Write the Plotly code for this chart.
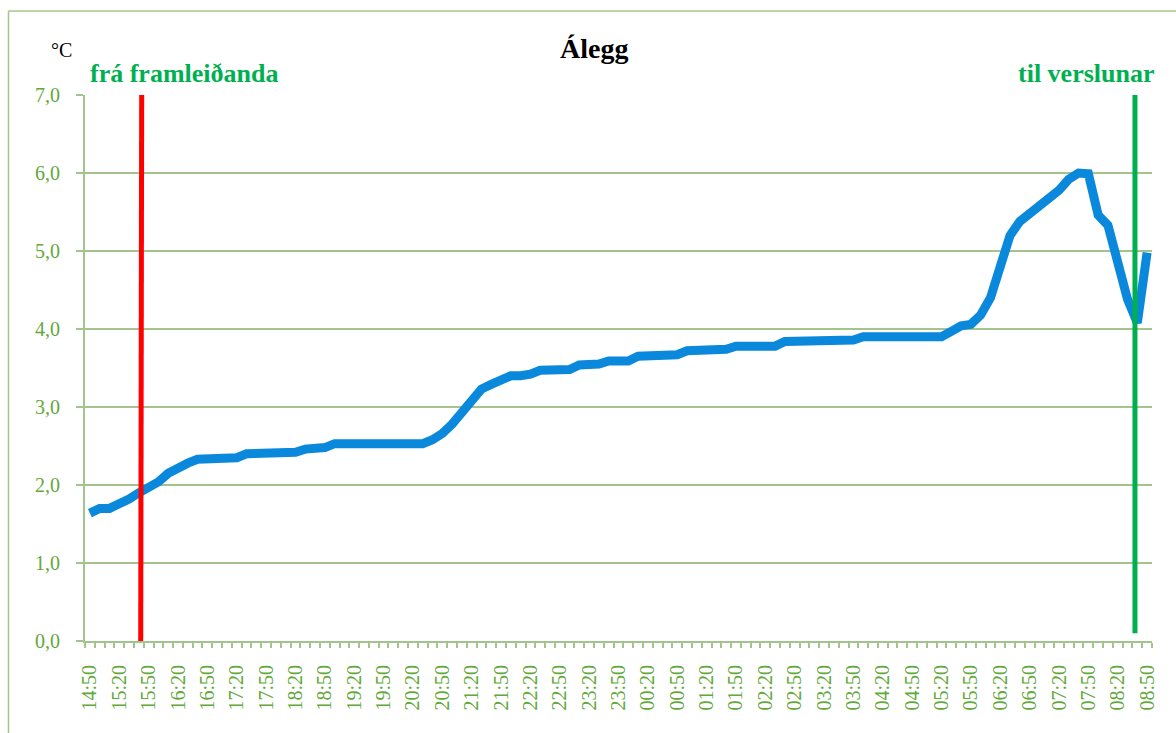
import pandas as pd
import plotly.graph_objects as go

# 10-minute logging intervals, 14:50 through 08:50 the next morning
times = [t.strftime("%H:%M") for t in
         pd.date_range("2000-01-01 14:50", "2000-01-02 08:50", freq="10min")]

# Logged temperature (°C) at each interval
temps = [
    1.64, 1.70, 1.70, 1.75, 1.82, 1.90, 1.97, 2.04, 2.15, 2.23,
    2.28, 2.33, 2.33, 2.33, 2.33, 2.35, 2.40, 2.40, 2.40, 2.40,
    2.40, 2.42, 2.46, 2.46, 2.48, 2.53, 2.53, 2.53, 2.53, 2.53,
    2.53, 2.53, 2.53, 2.53, 2.53, 2.58, 2.66, 2.78, 2.92, 3.10,
    3.23, 3.29, 3.35, 3.40, 3.40, 3.42, 3.47, 3.47, 3.47, 3.48,
    3.54, 3.54, 3.55, 3.59, 3.59, 3.59, 3.65, 3.65, 3.65, 3.65,
    3.67, 3.72, 3.72, 3.72, 3.72, 3.74, 3.78, 3.78, 3.78, 3.78,
    3.78, 3.84, 3.84, 3.84, 3.84, 3.84, 3.84, 3.84, 3.86, 3.90,
    3.90, 3.90, 3.90, 3.90, 3.90, 3.90, 3.90, 3.90, 3.97, 4.04,
    4.06, 4.18, 4.40, 4.85, 5.20, 5.38, 5.48, 5.56, 5.66, 5.78,
    5.92, 6.00, 5.99, 5.46, 5.33, 4.88, 4.38, 4.08, 4.98,
]

y_ticks = [0, 1, 2, 3, 4, 5, 6, 7]
label_step = 3  # label every 30 minutes

title_text = "Álegg"
unit_text = "°C"
start_text = "frá framleiðanda"
end_text = "til verslunar"

# Handover moments, as positions along the category axis
start_pos = (5.19, 5.29)
end_pos = 106.76

GRID = "#a3c48d"
LABEL = "#62a83a"
LINE = "#0a89dc"
GREEN = "#00b050"
SERIF = "Liberation Serif"

fig = go.Figure(go.Scatter(
    x=times, y=temps, mode="lines",
    line=dict(color=LINE, width=9),
    hoverinfo="x+y",
))

ticktext = [t if i % label_step == 0 else "" for i, t in enumerate(times)]

fig.update_layout(
    width=1176, height=733,
    margin=dict(l=85, r=24, t=95, b=92),
    paper_bgcolor="white", plot_bgcolor="white",
    separators=", ",
    showlegend=False,
    xaxis=dict(
        type="category", range=[-0.5, len(times) - 0.5],
        tickmode="array", tickvals=times, ticktext=ticktext,
        tickangle=-90, tickson="boundaries",
        ticks="outside", ticklen=5, tickcolor=GRID, tickwidth=1.5,
        showline=True, linecolor=GRID, linewidth=2,
        showgrid=False, zeroline=False,
        tickfont=dict(family=SERIF, size=20, color=LABEL),
        ticklabelstandoff=14,
    ),
    yaxis=dict(
        range=[0, 7], tickmode="array", tickvals=y_ticks, tickformat=".1f",
        showgrid=True, gridcolor=GRID, gridwidth=1.5,
        showline=True, linecolor=GRID, linewidth=2,
        ticks="outside", ticklen=7, tickcolor=GRID, tickwidth=1.5,
        zeroline=False,
        tickfont=dict(family=SERIF, size=20, color=LABEL),
        ticklabelstandoff=12,
    ),
)

# Vertical markers for pickup and delivery
fig.add_shape(type="line", xref="x", yref="y",
              x0=start_pos[0], x1=start_pos[1], y0=-0.09, y1=7.0,
              line=dict(color="#ff0000", width=5))
fig.add_shape(type="line", xref="x", yref="y",
              x0=end_pos, x1=end_pos, y0=0.1, y1=7.0,
              line=dict(color=GREEN, width=5))

# Chart-area frame
fig.add_shape(type="line", xref="paper", yref="paper",
              x0=-0.0717, x1=-0.0717, y0=-0.2, y1=1.1538,
              line=dict(color=GRID, width=1.5))
fig.add_shape(type="line", xref="paper", yref="paper",
              x0=-0.0717, x1=1.1, y0=1.1538, y1=1.1538,
              line=dict(color=GRID, width=1.5))

fig.add_annotation(text=f"<b>{title_text}</b>", xref="paper", yref="paper",
                   x=0.477, y=1.086, xanchor="center", yanchor="middle",
                   showarrow=False, font=dict(family=SERIF, size=28, color="black"))
fig.add_annotation(text=unit_text, xref="paper", yref="paper",
                   x=-0.0216, y=1.0824, xanchor="center", yanchor="middle",
                   showarrow=False, font=dict(family=SERIF, size=20, color="black"))
fig.add_annotation(text=f"<b>{start_text}</b>", xref="paper", yref="paper",
                   x=0.003, y=1.040, xanchor="left", yanchor="middle",
                   showarrow=False, font=dict(family=SERIF, size=26, color=GREEN))
fig.add_annotation(text=f"<b>{end_text}</b>", xref="paper", yref="paper",
                   x=1.0047, y=1.040, xanchor="right", yanchor="middle",
                   showarrow=False, font=dict(family=SERIF, size=26, color=GREEN))

fig.write_html("out.html")
